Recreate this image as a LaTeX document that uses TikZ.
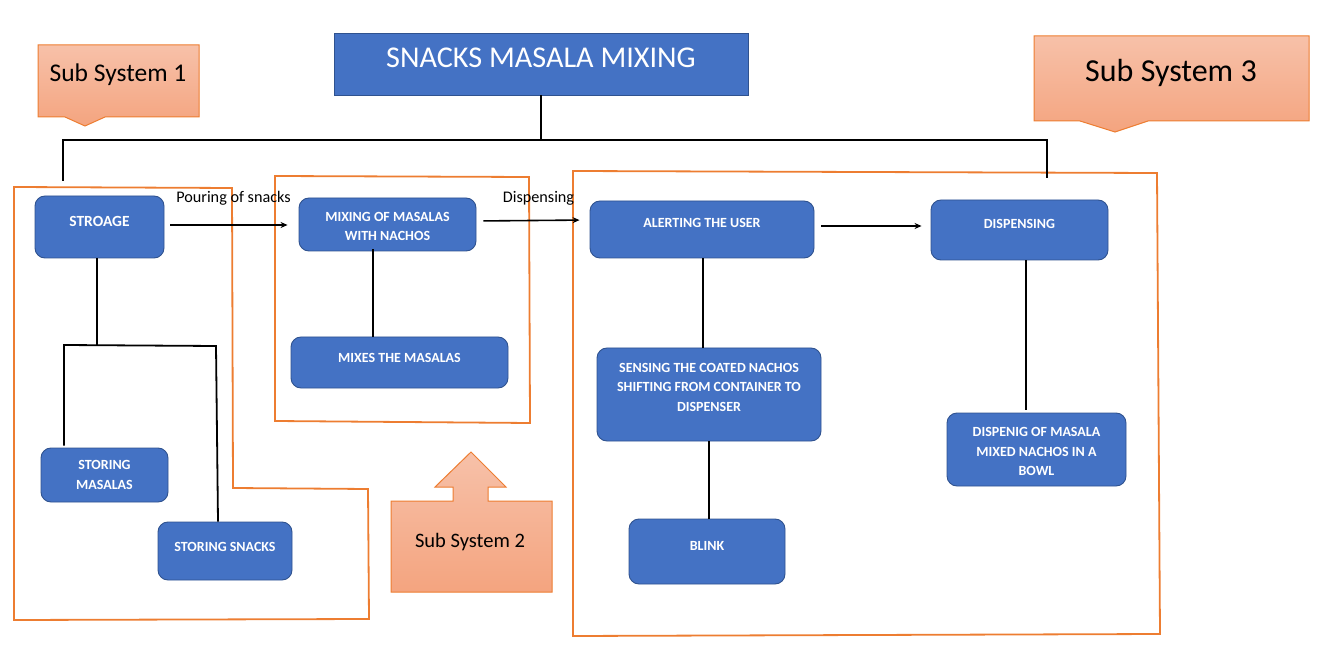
\documentclass[tikz,border=0pt]{standalone}
\usepackage{fontspec}
\setmainfont{Carlito}
\usetikzlibrary{arrows.meta}
\definecolor{bfill}{HTML}{4472C4}
\definecolor{bdraw}{HTML}{2F528F}
\definecolor{orng}{HTML}{ED7D31}
\definecolor{sstop}{HTML}{F7C1A9}
\definecolor{ssbot}{HTML}{F4A47F}
\tikzset{
  bbox/.style={draw=bdraw, line width=0.9pt, fill=bfill, rounded corners=10pt, inner sep=0pt},
  btext/.style={text=white, font=\bfseries\fontsize{14}{19.5}\selectfont, align=center, inner sep=0pt},
  conn/.style={draw=black, line width=1.8pt},
  arr/.style={draw=black, line width=1.6pt, -{Stealth[length=7pt,width=6pt]}},
  outl/.style={draw=orng, line width=1.8pt},
  callout/.style={draw=orng, line width=1pt, top color=sstop, bottom color=ssbot},
  lbl/.style={font=\fontsize{16.2}{19}\selectfont, inner sep=0pt}
}
\begin{document}
\begin{tikzpicture}[x=1pt,y=-1pt]
\useasboundingbox (0,0) rectangle (1339,652);

% orange outlines
\path[outl] (14,187) -- (232,188) -- (233,488) -- (368,489) -- (369,619) -- (14,620) -- cycle;
\path[outl] (275,176) -- (529,177) -- (530,423) -- (275,421) -- cycle;
\path[outl] (573,171) -- (1157,173) -- (1160,634) -- (573,636) -- cycle;

% callouts
\path[callout] (38,45) -- (199,45) -- (199,117) -- (105,117) -- (85,126) -- (65,117) -- (38,117) -- cycle;
\node[font=\fontsize{25.5}{30}\selectfont] (ss1) at (118,75) {Sub System 1};
\path[callout] (1034,36) -- (1309,36) -- (1309,121) -- (1148,121) -- (1115,132) -- (1080,121) -- (1034,121) -- cycle;
\node[font=\fontsize{32}{36}\selectfont] (ss3) at (1171,73) {Sub System 3};
\path[callout] (391,501) -- (453,501) -- (453,487) -- (435,487) -- (471,452) -- (506,487) -- (488,487) -- (488,501) -- (552,501) -- (552,592) -- (391,592) -- cycle;
\node[font=\fontsize{20.5}{24}\selectfont] (ss2) at (470,542) {Sub System 2};

% title
\node[bbox, rounded corners=0pt, minimum width=414pt, minimum height=62pt] (title) at (541,64) {};
\node[text=white, font=\fontsize{30.2}{34}\selectfont] (titlet) at (541,58) {SNACKS MASALA MIXING};

% boxes
\node[bbox, minimum width=129pt, minimum height=62pt] (stroage) at (99.5,227) {};
\node[btext, font=\bfseries\fontsize{15.5}{19}\selectfont] (stroaget) at (99.5,221) {STROAGE};
\node[bbox, minimum width=177pt, minimum height=53pt] (mixing) at (387.5,224.5) {};
\node[btext] (mixingt) at (387.5,226.5) {MIXING OF MASALAS\\WITH NACHOS};
\node[bbox, minimum width=217pt, minimum height=51pt] (mixes) at (399.5,362.5) {};
\node[btext] (mixest) at (399.5,358) {MIXES THE MASALAS};
\node[bbox, minimum width=127pt, minimum height=54pt] (stormas) at (104.5,475) {};
\node[btext] (stormast) at (104.5,475) {STORING\\MASALAS};
\node[bbox, minimum width=134pt, minimum height=58pt] (storsn) at (225,551) {};
\node[btext] (storsnt) at (225,547) {STORING SNACKS};
\node[bbox, minimum width=224pt, minimum height=57pt] (alert) at (702,229.5) {};
\node[btext] (alertt) at (702,223) {ALERTING THE USER};
\node[bbox, minimum width=177pt, minimum height=60pt] (disp) at (1019.5,230) {};
\node[btext] (dispt) at (1019.5,224) {DISPENSING};
\node[bbox, minimum width=224pt, minimum height=93pt] (sensing) at (709,394.5) {};
\node[btext] (sensingt) at (709,387) {SENSING THE COATED NACHOS\\SHIFTING FROM CONTAINER TO\\DISPENSER};
\node[bbox, minimum width=156pt, minimum height=65pt] (blink) at (707,551.5) {};
\node[btext] (blinkt) at (707,546) {BLINK};
\node[bbox, minimum width=179pt, minimum height=73pt] (dispenig) at (1036.5,449.5) {};
\node[btext] (dispenigt) at (1036.5,451.5) {DISPENIG OF MASALA\\MIXED NACHOS IN A\\BOWL};

% top tree
\coordinate (tj) at (541,140);
\coordinate (tl) at (63,140);
\coordinate (tr) at (1047,140);
\coordinate (tle) at (63,181);
\coordinate (tre) at (1047,178);
\path[conn] (title.south) -- (tj);
\path[conn] (tle) -- (tl) -- (tr) -- (tre);

% storage tree
\coordinate (sj) at (97,345);
\coordinate (sl) at (64,345);
\coordinate (sr) at (216,346);
\path[conn] ([xshift=-2.5pt]stroage.south) -- (sj);
\path[conn] ([xshift=-40.5pt,yshift=2pt]stormas.north) -- (sl) -- (sr) -- ([xshift=-7pt]storsn.north);

% other vertical connectors
\path[conn] ([xshift=-14.5pt,yshift=2pt]mixing.south) -- ([xshift=-26.5pt]mixes.north);
\path[conn] ([xshift=1pt]alert.south) -- ([xshift=-6pt]sensing.north);
\path[conn] (sensing.south) -- ([xshift=2pt]blink.south |- blink.north);
\path[conn] ([xshift=6.5pt]disp.south) -- ([xshift=-10.5pt,yshift=3pt]dispenig.north);

% arrows
\path[arr, shorten <=6pt, shorten >=11pt] ([yshift=2pt]stroage.east) -- ([yshift=-0.5pt]mixing.west);
\path[arr, shorten <=7pt, shorten >=10pt] ([yshift=3.5pt]mixing.east) -- ([yshift=9.5pt]alert.west);
\path[arr, shorten <=7pt, shorten >=9pt] ([yshift=3.5pt]alert.east) -- ([yshift=4pt]disp.west);
\node[lbl] (pour) at (233.5,198) {Pouring of snacks};
\node[lbl] (dlab) at (538.5,198) {Dispensing};
\end{tikzpicture}
\end{document}
